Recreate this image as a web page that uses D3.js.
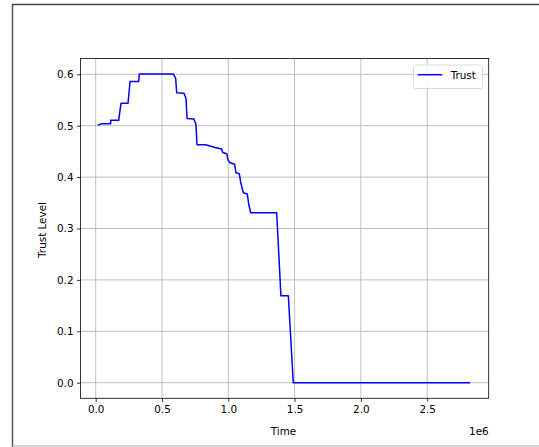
<!DOCTYPE html>
<html>
<head>
<meta charset="utf-8">
<script src="https://cdn.jsdelivr.net/npm/d3@7"></script>
<style>
  body { margin: 0; background: #fff; }
  svg { display: block; font-family: "DejaVu Sans", sans-serif; }
</style>
</head>
<body>
<svg id="chart" width="539" height="447"></svg>
<script>
// time values in units of 1e6
const times = [0.015, 0.045, 0.113, 0.113, 0.173, 0.191, 0.244, 0.259, 0.324, 0.329, 0.585,
  0.603, 0.611, 0.666, 0.681, 0.689, 0.741, 0.756, 0.764, 0.829, 0.9, 0.95, 0.958, 0.988,
  0.998, 1.013, 1.048, 1.058, 1.083, 1.093, 1.113, 1.143, 1.154, 1.169, 1.365, 1.397,
  1.453, 1.49, 2.823];
const trust = [0.5005, 0.504, 0.504, 0.5105, 0.5105, 0.5436, 0.5436, 0.586, 0.586, 0.6006, 0.6006,
  0.592, 0.564, 0.563, 0.553, 0.514, 0.513, 0.503, 0.463, 0.463, 0.4575, 0.4546, 0.448, 0.4455,
  0.433, 0.428, 0.425, 0.4086, 0.4066, 0.3905, 0.3697, 0.367, 0.3477, 0.3307, 0.3307, 0.169,
  0.169, 0.0, 0.0];
const xTicks = [0, 0.5, 1.0, 1.5, 2.0, 2.5];
const yTicks = [0, 0.1, 0.2, 0.3, 0.4, 0.5, 0.6];

const svg = d3.select("#chart");
const plotLeft = 80.5, plotRight = 488.7, plotTop = 58.5, plotBottom = 398.3;

// figure frame
svg.append("line").attr("x1", 12.5).attr("x2", 12.5).attr("y1", 4).attr("y2", 447)
  .attr("stroke", "#555").attr("stroke-width", 1.5);
svg.append("line").attr("x1", 12).attr("x2", 539).attr("y1", 4.5).attr("y2", 4.5)
  .attr("stroke", "#444").attr("stroke-width", 1.5);
svg.append("line").attr("x1", 12).attr("x2", 539).attr("y1", 446).attr("y2", 446)
  .attr("stroke", "#aaa").attr("stroke-width", 1);

const x = d3.scaleLinear().domain([-0.1146, 2.964]).range([plotLeft, plotRight]);
const y = d3.scaleLinear().domain([-0.0303, 0.6307]).range([plotBottom, plotTop]);

// grid
const g = svg.append("g");
g.selectAll(".gx").data(xTicks).join("line")
  .attr("x1", d => x(d)).attr("x2", d => x(d)).attr("y1", plotTop).attr("y2", plotBottom)
  .attr("stroke", "#b0b0b0").attr("stroke-width", 0.8);
g.selectAll(".gy").data(yTicks).join("line")
  .attr("y1", d => y(d)).attr("y2", d => y(d)).attr("x1", plotLeft).attr("x2", plotRight)
  .attr("stroke", "#b0b0b0").attr("stroke-width", 0.8);

// line
const pts = times.map((t, i) => [t, trust[i]]);
svg.append("path").datum(pts)
  .attr("d", d3.line().x(d => x(d[0])).y(d => y(d[1])))
  .attr("fill", "none").attr("stroke", "#0000ff").attr("stroke-width", 1.5)
  .attr("stroke-linejoin", "round");

// axes
const xAxis = svg.append("g").attr("transform", `translate(0,${plotBottom})`)
  .call(d3.axisBottom(x).tickValues(xTicks).tickFormat(d3.format(".1f")).tickSizeOuter(0).tickSize(3.5).tickPadding(3.5));
const yAxis = svg.append("g").attr("transform", `translate(${plotLeft},0)`)
  .call(d3.axisLeft(y).tickValues(yTicks).tickFormat(d3.format(".1f")).tickSizeOuter(0).tickSize(3.5).tickPadding(3.5));
[xAxis, yAxis].forEach(a => {
  a.select(".domain").remove();
  a.selectAll("text").attr("font-size", 10.4).attr("fill", "#000").attr("font-family", "DejaVu Sans");
  a.selectAll("line").attr("stroke", "#000").attr("stroke-width", 0.8);
});

// frame of plot
svg.append("rect").attr("x", plotLeft).attr("y", plotTop).attr("width", plotRight - plotLeft).attr("height", plotBottom - plotTop)
  .attr("fill", "none").attr("stroke", "#000").attr("stroke-width", 0.8);

// labels
svg.append("text").attr("x", 283.5).attr("y", 435).attr("text-anchor", "middle")
  .attr("font-size", 10.4).text("Time");
svg.append("text").attr("x", plotRight).attr("y", 435).attr("text-anchor", "end")
  .attr("font-size", 10.4).text("1e6");
svg.append("text").attr("transform", "translate(45.5,230) rotate(-90)").attr("text-anchor", "middle")
  .attr("font-size", 10.4).text("Trust Level");

// legend
const lg = svg.append("g");
lg.append("rect").attr("x", 413.5).attr("y", 65).attr("width", 69).attr("height", 23.5).attr("rx", 2)
  .attr("fill", "#fff").attr("fill-opacity", 0.8).attr("stroke", "#d0d0d0").attr("stroke-width", 0.8);
lg.append("line").attr("x1", 417.7).attr("x2", 442.3).attr("y1", 74.7).attr("y2", 74.7)
  .attr("stroke", "#0000ff").attr("stroke-width", 1.5);
lg.append("text").attr("x", 450.7).attr("y", 78.5).attr("font-size", 10.4).text("Trust");
</script>
</body>
</html>
